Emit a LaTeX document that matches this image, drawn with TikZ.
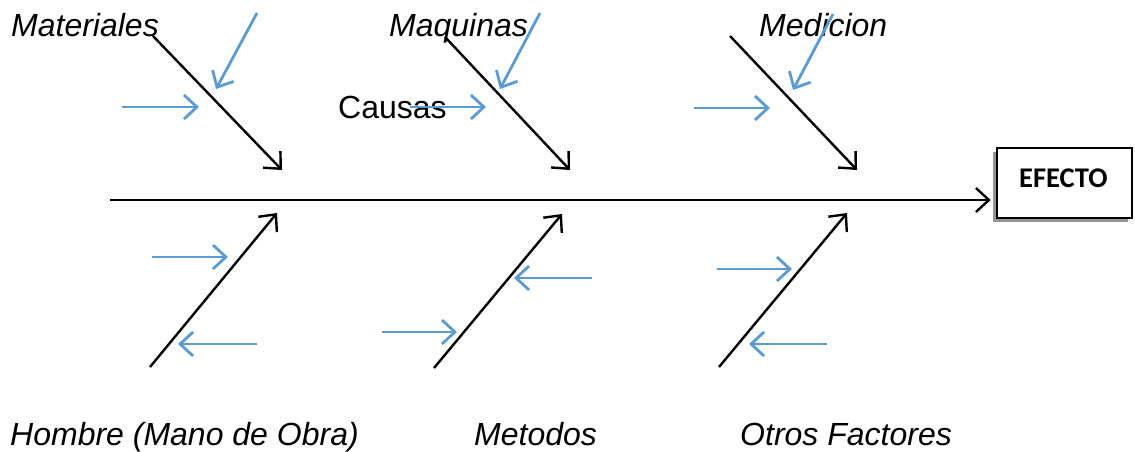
\documentclass[tikz,border=0pt]{standalone}
\usepackage{fontspec}
\setmainfont{Liberation Sans}
\newfontfamily\calib{Carlito}
\usetikzlibrary{arrows.meta,shadows}
\definecolor{causeblue}{RGB}{91,155,213}
\begin{document}
\begin{tikzpicture}[x=1pt,y=-1pt,
  lbl/.style={inner sep=0pt,anchor=base west,font=\fontsize{32}{38}\selectfont\itshape},
  bone/.style={line width=2.4pt,black,-{Straight Barb[length=13pt,width=24pt,line width=2.4pt]}},
  cause/.style={line width=2.8pt,causeblue,-{Straight Barb[length=13pt,width=24pt,line width=2.8pt]}},
  effbox/.style={draw,line width=2.6pt,fill=white,minimum width=135pt,minimum height=70pt,inner sep=0pt,
    drop shadow={shadow xshift=-4pt,shadow yshift=-4pt,fill=gray!85,opacity=1}}]
\useasboundingbox (0,0) rectangle (1135,451);

% effect box
\node[effbox] (box) at (1064.5,183) {};
\node[inner sep=0pt,anchor=base west,font=\calib\bfseries\fontsize{28.5}{33}\selectfont] (eff) at (1019,187) {EFECTO};

% spine
\coordinate (s0) at (110,200);
\draw[bone,shorten >=5pt] (s0) -- (s0 -| box.west);

% labels
\node[lbl] (mat) at (11,36) {Materiales};
\node[lbl] (maq) at (389,36) {Maquinas};
\node[lbl] (med) at (759,36) {Medicion};
\node[inner sep=0pt,anchor=base west,font=\fontsize{32}{38}\selectfont] (cau) at (338,118) {Causas};
\node[lbl] (hom) at (10,445) {Hombre (Mano de Obra)};
\node[lbl] (met) at (474,445) {Metodos};
\node[lbl] (otr) at (740,445) {Otros Factores};

% main bones top
\coordinate (a1) at (153,36);  \coordinate (b1) at (282,170);
\coordinate (a2) at (445,37);  \coordinate (b2) at (570,170);
\coordinate (a3) at (730,36);  \coordinate (b3) at (857,170);
\draw[bone] (a1) -- (b1);
\draw[bone] (a2) -- (b2);
\draw[bone] (a3) -- (b3);

% main bones bottom
\coordinate (c1) at (150,367); \coordinate (d1) at (277,213);
\coordinate (c2) at (434,368); \coordinate (d2) at (562,214);
\coordinate (c3) at (719,367); \coordinate (d3) at (847,213);
\draw[bone] (c1) -- (d1);
\draw[bone] (c2) -- (d2);
\draw[bone] (c3) -- (d3);

% cause arrows top
\coordinate (p1) at (257,13);  \coordinate (q1) at (216,89);
\coordinate (p2) at (122,107); \coordinate (q2) at (199,107);
\coordinate (p3) at (540,13);  \coordinate (q3) at (500,89);
\coordinate (p4) at (410,107); \coordinate (q4) at (486,107);
\coordinate (p5) at (833,14);  \coordinate (q5) at (793,90);
\coordinate (p6) at (694,108); \coordinate (q6) at (770,108);
\draw[cause] (p1) -- (q1);
\draw[cause] (p2) -- (q2);
\draw[cause] (p3) -- (q3);
\draw[cause] (p4) -- (q4);
\draw[cause] (p5) -- (q5);
\draw[cause] (p6) -- (q6);

% cause arrows bottom
\coordinate (r1) at (152,257); \coordinate (t1) at (228,257);
\coordinate (r2) at (257,344); \coordinate (t2) at (178,344);
\coordinate (r3) at (592,278); \coordinate (t3) at (514,278);
\coordinate (r4) at (382,332); \coordinate (t4) at (457,332);
\coordinate (r5) at (717,269); \coordinate (t5) at (792,269);
\coordinate (r6) at (827,344); \coordinate (t6) at (749,344);
\draw[cause] (r1) -- (t1);
\draw[cause] (r2) -- (t2);
\draw[cause] (r3) -- (t3);
\draw[cause] (r4) -- (t4);
\draw[cause] (r5) -- (t5);
\draw[cause] (r6) -- (t6);
\end{tikzpicture}
\end{document}
